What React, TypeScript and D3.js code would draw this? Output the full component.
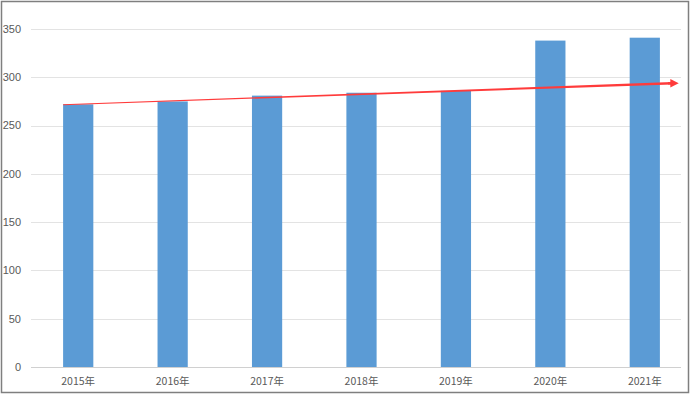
import * as d3 from 'd3';
import { useEffect, useRef } from 'react';

const WIDTH = 690;
const HEIGHT = 395;
const MARGIN = { top: 29, left: 31 };
const PLOT_BOTTOM = 367;

const YEARS = ['2015年', '2016年', '2017年', '2018年', '2019年', '2020年', '2021年'];
const VALUES = [272, 275, 281, 284, 286, 338, 341];
const Y_TICKS = [0, 50, 100, 150, 200, 250, 300, 350];
// trend arrow: value at the first bar's left edge and at the arrow tip
const TREND = [272, 295];

const App = () => {
    const svgRef = useRef<SVGSVGElement>(null);

    useEffect(() => {
        if (!svgRef.current) return;
        const innerWidth = 661;
        const yBottom = PLOT_BOTTOM - MARGIN.top;

        const svg = d3.select(svgRef.current);
        svg.selectAll('*').remove();

        // outer frame
        svg.append('rect')
            .attr('x', 1.5)
            .attr('y', 1.5)
            .attr('width', WIDTH - 3)
            .attr('height', HEIGHT - 4)
            .attr('fill', '#fff')
            .attr('stroke', '#7f7f7f')
            .attr('stroke-width', 1.5);

        const xScale = d3.scaleBand().domain(YEARS).range([0, innerWidth]).paddingInner(0.68).paddingOuter(0.34);
        const yScale = d3.scaleLinear().domain([0, 350]).range([yBottom, 0]);

        const g = svg.append('g').attr('transform', `translate(${MARGIN.left},${MARGIN.top})`);

        // gridlines
        g.append('g')
            .selectAll('line')
            .data(Y_TICKS)
            .enter()
            .append('line')
            .attr('x1', 0)
            .attr('x2', 650)
            .attr('y1', (d) => Math.round(yScale(d)) + 0.5)
            .attr('y2', (d) => Math.round(yScale(d)) + 0.5)
            .attr('stroke', (d) => (d === 0 ? '#d0d0d0' : '#e3e3e3'))
            .attr('stroke-width', 1);

        g.append('g')
            .selectAll('text')
            .data(Y_TICKS)
            .enter()
            .append('text')
            .attr('x', -10)
            .attr('y', (d) => yScale(d))
            .attr('dy', '0.35em')
            .attr('text-anchor', 'end')
            .style('font-family', '"Liberation Sans", Arial, sans-serif')
            .style('font-size', '11px')
            .attr('fill', '#595959')
            .text((d) => d);

        // bars
        g.selectAll('rect.bar')
            .data(VALUES)
            .enter()
            .append('rect')
            .attr('class', 'bar')
            .attr('x', (_d, i) => xScale(YEARS[i])!)
            .attr('width', xScale.bandwidth())
            .attr('y', (d) => yScale(d))
            .attr('height', (d) => yBottom - yScale(d))
            .attr('fill', '#5b9bd5');

        // category labels
        g.selectAll('text.cat')
            .data(YEARS)
            .enter()
            .append('text')
            .attr('class', 'cat')
            .attr('x', (d) => xScale(d)! + xScale.bandwidth() / 2)
            .attr('y', yBottom + 18)
            .attr('text-anchor', 'middle')
            .style('font-family', '"Noto Sans CJK SC", sans-serif')
            .style('font-size', '10.5px')
            .attr('fill', '#595959')
            .text((d) => d);

        // trend arrow (tapered line + head)
        svg.append('defs')
            .append('marker')
            .attr('id', 'arrow')
            .attr('viewBox', '0 0 10 10')
            .attr('refX', 2)
            .attr('refY', 5)
            .attr('markerWidth', 4)
            .attr('markerHeight', 3.5)
            .attr('orient', 'auto')
            .attr('markerUnits', 'strokeWidth')
            .append('path')
            .attr('d', 'M0,0 L10,5 L0,10 z')
            .attr('fill', '#ff3b3b');

        const x0 = xScale(YEARS[0])!;
        const x1 = 641;
        g.append('path')
            .attr('d', `M${x0},${yScale(TREND[0])} L${x1},${yScale(TREND[1])} L${x1},${yScale(TREND[1]) + 2.4} L${x0},${yScale(TREND[0]) + 0.8} Z`)
            .attr('fill', '#ff3b3b');
        g.append('line')
            .attr('x1', x1 - 4)
            .attr('x2', x1)
            .attr('y1', yScale(TREND[1]) + 1.2)
            .attr('y2', yScale(TREND[1]) + 1.2)
            .attr('stroke', '#ff3b3b')
            .attr('stroke-width', 2.4)
            .attr('marker-end', 'url(#arrow)');
    }, []);

    return (
        <div style={{ position: 'fixed', left: 0, top: 0 }}>
            <svg ref={svgRef} width={WIDTH} height={HEIGHT} style={{ display: 'block' }}></svg>
        </div>
    );
};

export default App;
